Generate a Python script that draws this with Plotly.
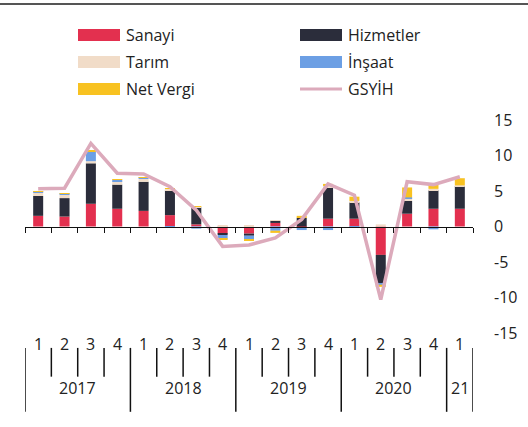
import plotly.graph_objects as go

quarters = ["2017-1","2017-2","2017-3","2017-4","2018-1","2018-2","2018-3","2018-4",
            "2019-1","2019-2","2019-3","2019-4","2020-1","2020-2","2020-3","2020-4","2021-1"]
quarter_labels = ["1","2","3","4","1","2","3","4","1","2","3","4","1","2","3","4","1"]
year_labels = ["2017","2018","2019","2020","21"]
year_counts = [4, 4, 4, 4, 1]

sanayi    = [1.5, 1.4, 3.2, 2.5, 2.2, 1.6, 0.3, -1.0, -1.0, 0.5, -0.1, 1.1, 1.1, -4.0, 1.8, 2.5, 2.5]
hizmetler = [2.8, 2.6, 5.7, 3.4, 4.1, 3.5, 2.4, -0.2, -0.3, 0.3, 1.2, 4.4, 2.3, -4.0, 1.8, 2.6, 3.2]
tarim     = [0.5, 0.5, 0.3, 0.5, 0.4, 0.2, 0.1, 0.1, 0.1, 0.1, 0.1, 0.2, 0.2, 0.3, 0.4, 0.2, 0.1]
insaat    = [0.1, 0.1, 1.4, 0.2, 0.2, -0.2, -0.3, -0.5, -0.5, -0.6, -0.4, -0.5, -0.2, -0.2, 0.1, -0.4, 0.0]
net_vergi = [0.05, 0.05, 0.1, 0.05, 0.05, 0.05, 0.05, -0.2, -0.2, -0.3, 0.2, 0.3, 0.6, -0.3, 1.4, 0.7, 1.0]
gsyih     = [5.3, 5.4, 11.7, 7.5, 7.4, 5.6, 2.3, -2.8, -2.6, -1.6, 1.0, 6.0, 4.4, -10.3, 6.3, 5.9, 7.0]
y_ticks = [15, 10, 5, 0, -5, -10, -15]

C_SAN = "#e3304f"
C_HIZ = "#2b2d3b"
C_TAR = "#f1dcc8"
C_INS = "#6c9fe4"
C_NV = "#f8c221"
C_GDP = "#dcaabb"
FONT = "Open Sans"

x = list(range(len(quarters)))
fig = go.Figure()
series = [("Sanayi", sanayi, C_SAN), ("Hizmetler", hizmetler, C_HIZ), ("Tarım", tarim, C_TAR),
          ("İnşaat", insaat, C_INS), ("Net Vergi", net_vergi, C_NV)]
for name, vals, col in series:
    fig.add_trace(go.Bar(x=x, y=vals, name=name, marker=dict(color=col, line=dict(width=0)),
                         width=0.38, showlegend=False, hovertext=quarters))
fig.add_trace(go.Scatter(x=x, y=gsyih, name="GSYİH", mode="lines",
                         line=dict(color=C_GDP, width=3.5), showlegend=False, hovertext=quarters))

n = len(quarters)
fig.update_layout(
    width=528, height=427, barmode="relative",
    margin=dict(l=25, r=55, t=120, b=94),
    paper_bgcolor="white", plot_bgcolor="white",
    font=dict(family=FONT, size=16, color="#222"),
    xaxis=dict(range=[-0.5, n - 0.5], anchor="free", position=0.5, showgrid=False, zeroline=False,
               showline=True, linecolor="#111", linewidth=1, ticks="outside", ticklen=5,
               tickcolor="#111", tickwidth=1, tickvals=[i - 0.5 for i in range(n + 1)],
               showticklabels=False),
    yaxis=dict(range=[-15, 15], side="right", tickvals=y_ticks, ticktext=[str(v) for v in y_ticks],
               showgrid=False, zeroline=False, showline=False, ticks="", ticklabelstandoff=20,
               tickfont=dict(family=FONT, size=16, color="#222")),
)

shapes = []
ann = []
# top rule
shapes.append(dict(type="line", xref="paper", yref="paper", x0=-0.06, x1=1.2, y0=1.545, y1=1.545,
                   line=dict(color="#555", width=2)))
# bottom category separators
qy0, qy1 = -0.07, -0.205
yy1 = -0.37
bounds = [0]
for c in year_counts:
    bounds.append(bounds[-1] + c)
for i in range(n + 1):
    long = i in bounds
    shapes.append(dict(type="line", xref="x", yref="paper", x0=i - 0.5, x1=i - 0.5,
                       y0=qy0, y1=(yy1 if long else qy1), line=dict(color="#111", width=1.5)))
for i, q in enumerate(quarter_labels):
    ann.append(dict(x=i, y=-0.115, xref="x", yref="paper", text=q, showarrow=False,
                    font=dict(family=FONT, size=16, color="#222")))
for j, yl in enumerate(year_labels):
    cx = (bounds[j] + bounds[j + 1] - 1) / 2
    ann.append(dict(x=cx, y=-0.318, xref="x", yref="paper", text=yl, showarrow=False,
                    font=dict(family=FONT, size=16, color="#222")))

# custom legend
legend_items = [("Sanayi", C_SAN, "bar", 0), ("Tarım", C_TAR, "bar", 1), ("Net Vergi", C_NV, "bar", 2),
                ("Hizmetler", C_HIZ, "bar", 0), ("İnşaat", C_INS, "bar", 1), ("GSYİH", C_GDP, "line", 2)]
for k, (name, col, kind, row) in enumerate(legend_items):
    colx = 0 if k < 3 else 1
    sx0 = [53, 275][colx]
    sx1 = sx0 + 42
    yc = 427 - [35, 62, 89][row]
    if kind == "bar":
        shapes.append(dict(type="rect", xref="x domain", yref="paper",
                           x0=sx0 / 448, x1=sx1 / 448,
                           y0=(yc - 6 - 94) / 213, y1=(yc + 6 - 94) / 213,
                           line=dict(width=0), fillcolor=col))
    else:
        shapes.append(dict(type="line", xref="x domain", yref="paper",
                           x0=sx0 / 448, x1=sx1 / 448,
                           y0=(yc - 94) / 213, y1=(yc - 94) / 213,
                           line=dict(color=col, width=3)))
    ann.append(dict(x=(sx1 + 4) / 448, y=(yc - 94) / 213, xref="x domain", yref="paper",
                    text=name, showarrow=False, xanchor="left", yanchor="middle",
                    font=dict(family=FONT, size=16, color="#222")))

fig.update_layout(shapes=shapes, annotations=ann)
fig.write_html("out.html", config={"displayModeBar": False},
               post_script="document.body.style.margin='0';document.body.style.overflow='hidden';")
